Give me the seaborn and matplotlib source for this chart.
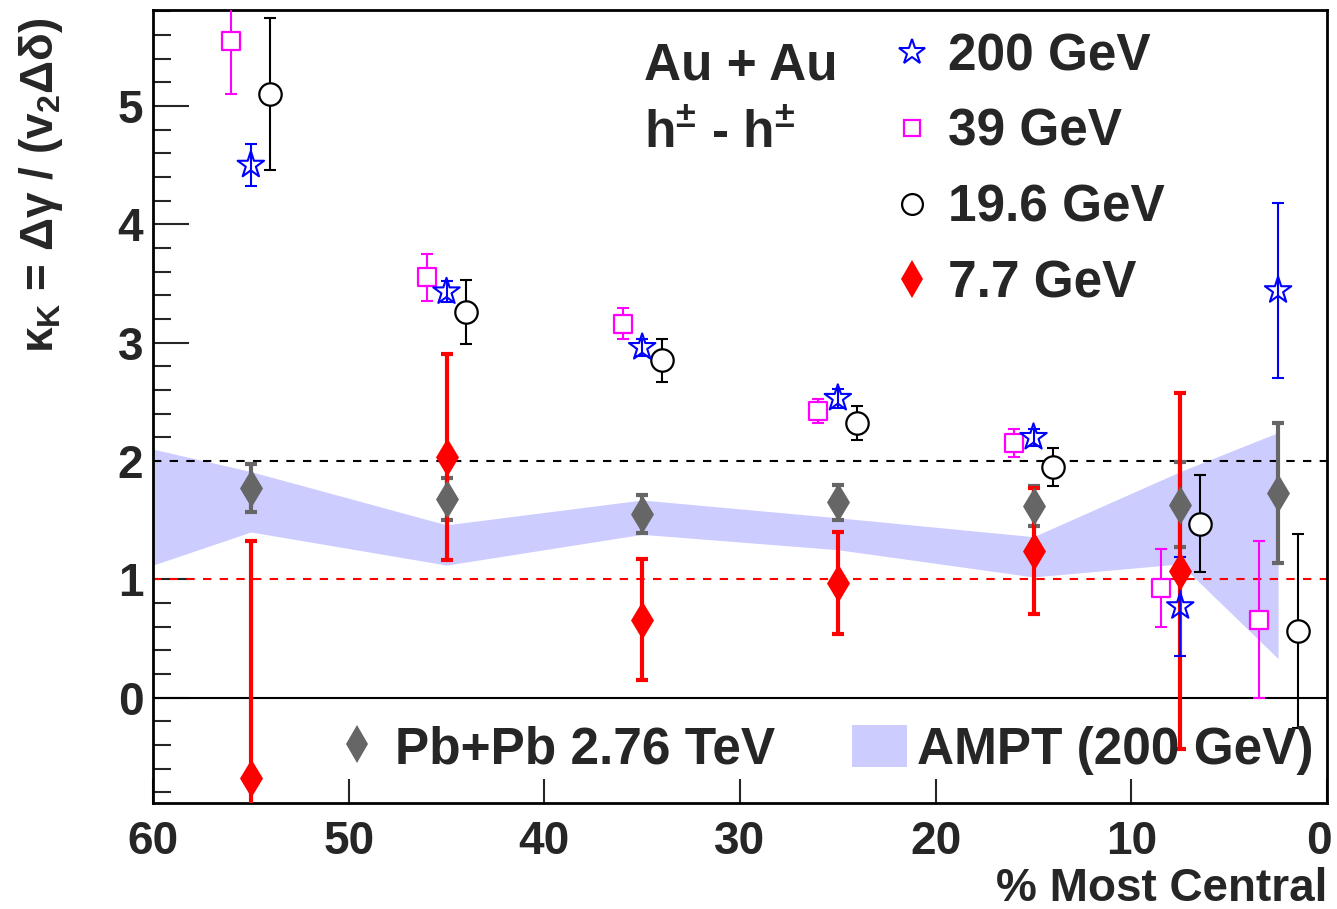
import numpy as np
import pandas as pd
import matplotlib
matplotlib.use("Agg")
import matplotlib.pyplot as plt
import matplotlib.transforms as mtransforms
from matplotlib.lines import Line2D
from matplotlib.patches import Patch
from matplotlib.ticker import MultipleLocator
import seaborn as sns

# ---------------- data ----------------
cent_200 = [55, 45, 35, 25, 15, 7.5, 2.5]
k_200 = [4.50, 3.43, 2.96, 2.53, 2.20, 0.77, 3.44]
e_200 = [0.18, 0.09, 0.07, 0.08, 0.07, 0.42, 0.74]

cent_39 = [56, 46, 36, 26, 16, 8.5, 3.5]
k_39 = [5.55, 3.55, 3.16, 2.42, 2.15, 0.93, 0.66]
e_39 = [0.45, 0.20, 0.13, 0.10, 0.12, 0.33, 0.66]

cent_196 = [54, 44, 34, 24, 14, 6.5, 1.5]
k_196 = [5.10, 3.26, 2.85, 2.32, 1.95, 1.47, 0.56]
e_196 = [0.64, 0.27, 0.18, 0.14, 0.16, 0.41, 0.82]

cent_77 = [55, 45, 35, 25, 15, 7.5]
k_77 = [-0.68, 2.03, 0.66, 0.97, 1.24, 1.07]
e_77 = [2.00, 0.87, 0.51, 0.43, 0.53, 1.50]

cent_pb = [55, 45, 35, 25, 15, 7.5, 2.5]
k_pb = [1.77, 1.68, 1.55, 1.65, 1.62, 1.63, 1.73]
e_pb = [0.20, 0.18, 0.16, 0.15, 0.17, 0.36, 0.59]

ampt_x = [60, 55, 45, 35, 25, 15, 7.5, 2.5]
ampt_hi = [2.10, 1.91, 1.46, 1.67, 1.52, 1.36, 1.91, 2.24]
ampt_lo = [1.12, 1.40, 1.12, 1.38, 1.25, 1.02, 1.13, 0.33]

x_ticks = [60, 50, 40, 30, 20, 10, 0]
y_ticks = [0, 1, 2, 3, 4, 5]

# ---------------- style ----------------
sns.set_style("ticks")
plt.rcParams["font.family"] = ["Liberation Sans", "DejaVu Sans"]
plt.rcParams["font.weight"] = "bold"
plt.rcParams["mathtext.fontset"] = "custom"
plt.rcParams["mathtext.rm"] = "Liberation Sans:bold"
plt.rcParams["mathtext.it"] = "Liberation Sans:bold"
plt.rcParams["mathtext.bf"] = "Liberation Sans:bold"

DPI = 100
fig = plt.figure(figsize=(13.37, 9.09), dpi=DPI)
ax = fig.add_axes([153 / 1337, 1 - 803 / 909, 1174 / 1337, 793 / 909])

# AMPT band
ax.fill_between(ampt_x, ampt_lo, ampt_hi, color="#ccccff", lw=0, zorder=1)

# reference lines
ax.axhline(2, color="black", ls=(0, (4, 4)), lw=1.5, zorder=2)
ax.axhline(1, color="red", ls=(0, (4, 4)), lw=1.5, zorder=2)
ax.axhline(0, color="black", lw=1.5, zorder=2)

def errs(x, y, e, color, lw, z):
    ax.errorbar(x, y, yerr=e, fmt="none", ecolor=color, elinewidth=lw,
                capsize=4, capthick=lw, zorder=z)

errs(cent_pb, k_pb, e_pb, "#666666", 3.0, 3)
errs(cent_77, k_77, e_77, "red", 3.0, 4)
errs(cent_39, k_39, e_39, "magenta", 1.5, 5)
errs(cent_196, k_196, e_196, "black", 1.5, 5)
errs(cent_200, k_200, e_200, "blue", 1.5, 5)

df_pb = pd.DataFrame({"c": cent_pb, "k": k_pb})
df_77 = pd.DataFrame({"c": cent_77, "k": k_77})
df_39 = pd.DataFrame({"c": cent_39, "k": k_39})
df_196 = pd.DataFrame({"c": cent_196, "k": k_196})
df_200 = pd.DataFrame({"c": cent_200, "k": k_200})

sns.scatterplot(data=df_pb, x="c", y="k", marker="d", s=380, color="#666666",
                edgecolor="#666666", linewidth=0, ax=ax, zorder=6, legend=False)
sns.scatterplot(data=df_77, x="c", y="k", marker="d", s=380, color="red",
                edgecolor="red", linewidth=0, ax=ax, zorder=7, legend=False)
sns.scatterplot(data=df_39, x="c", y="k", marker="s", s=170, facecolor="white",
                edgecolor="magenta", linewidth=1.6, ax=ax, zorder=8, legend=False)
sns.scatterplot(data=df_196, x="c", y="k", marker="o", s=260, facecolor="white",
                edgecolor="black", linewidth=1.6, ax=ax, zorder=8, legend=False)
sns.scatterplot(data=df_200, x="c", y="k", marker="*", s=400, facecolor="none",
                edgecolor="blue", linewidth=1.5, ax=ax, zorder=9, legend=False)

# axes
ax.set_xlim(60, 0)
ax.set_ylim(-0.89, 5.81)
ax.set_xticks(x_ticks)
ax.set_xticklabels([str(v) for v in x_ticks])
ax.set_yticks(y_ticks)
ax.set_yticklabels([str(v) for v in y_ticks])
ax.yaxis.set_minor_locator(MultipleLocator(0.2))
ax.tick_params(axis="y", which="major", direction="in", length=26, width=1.5,
               labelsize=33, pad=7)
ax.tick_params(axis="y", which="minor", direction="in", length=13, width=1.5)
ax.tick_params(axis="x", which="major", direction="in", length=17, width=1.5,
               labelsize=33, pad=12)
for sp in ax.spines.values():
    sp.set_linewidth(2)
    sp.set_color("black")
for lab in ax.get_xticklabels() + ax.get_yticklabels():
    lab.set_fontweight("bold")
# keep the last x tick label ("0") inside the canvas
last = ax.get_xticklabels()[-1]
last.set_transform(last.get_transform() +
                   mtransforms.ScaledTranslation(-8 / DPI, 0, fig.dpi_scale_trans))

ax.set_xlabel("% Most Central", fontsize=33, fontweight="bold", loc="right")
ax.xaxis.label.set_va("center")
ax.xaxis.set_label_coords(1.0, -0.108)
ax.set_ylabel(r"$\kappa_{\mathrm{K}}$ = $\Delta\gamma$ / (v$_{\mathrm{2}}\Delta\delta$)",
              fontsize=33, fontweight="bold", loc="top")
ax.yaxis.set_label_coords(-0.075, 0.99)

# text labels
ax.text(0.418, 0.930, "Au + Au", transform=ax.transAxes, fontsize=37,
        fontweight="bold", ha="left", va="center")
ax.text(0.418, 0.843, r"h$^{\pm}$ - h$^{\pm}$", transform=ax.transAxes, fontsize=37,
        fontweight="bold", ha="left", va="center")

# legends
h_top = [
    Line2D([], [], ls="none", marker="*", ms=19, mfc="none", mec="blue", mew=1.5),
    Line2D([], [], ls="none", marker="s", ms=12, mfc="white", mec="magenta", mew=1.6),
    Line2D([], [], ls="none", marker="o", ms=15, mfc="white", mec="black", mew=1.6),
    Line2D([], [], ls="none", marker="d", ms=19, mfc="red", mec="red", mew=0),
]
l_top = ["200 GeV", "39 GeV", "19.6 GeV", "7.7 GeV"]
leg1 = ax.legend(h_top, l_top, loc="upper left", bbox_to_anchor=(0.6245, 0.972),
                 frameon=False, fontsize=37, handlelength=1.0, handletextpad=0.2,
                 borderpad=0.0, borderaxespad=0.0, labelspacing=0.52)
ax.add_artist(leg1)

h_bot = [
    Line2D([], [], ls="none", marker="d", ms=19, mfc="#666666", mec="#666666", mew=0),
    Patch(facecolor="#ccccff", edgecolor="none"),
]
l_bot = ["Pb+Pb 2.76 TeV", "AMPT (200 GeV)"]
ax.legend(h_bot, l_bot, loc="center left", bbox_to_anchor=(0.1505, 0.067),
          frameon=False, fontsize=37, ncol=2, handlelength=1.07, handleheight=0.9,
          handletextpad=0.2, columnspacing=1.5, borderpad=0.0, borderaxespad=0.0)

fig.savefig("out.png", dpi=DPI)
